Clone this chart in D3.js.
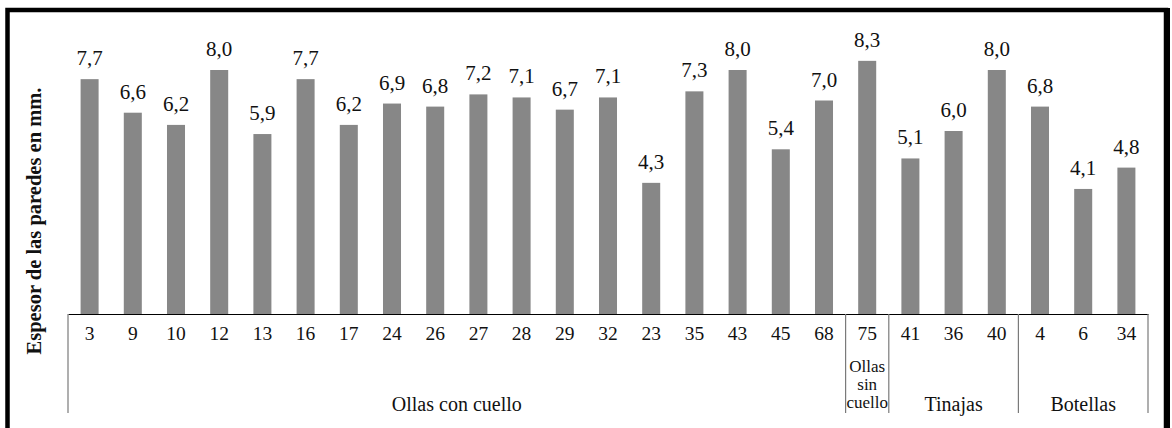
<!DOCTYPE html>
<html>
<head>
<meta charset="utf-8">
<script src="https://cdn.jsdelivr.net/npm/d3@7"></script>
<style>
  html, body { margin: 0; padding: 0; background: #ffffff; }
  svg { display: block; }
  svg text { font-family: "Liberation Serif", "Times New Roman", "DejaVu Serif", serif; }
</style>
</head>
<body>
<svg id="chart" width="1172" height="428"></svg>
<script>
// ---- data ----
const categories = ["3","9","10","12","13","16","17","24","26","27","28","29","32","23","35","43","45","68","75","41","36","40","4","6","34"];
const values = [7.7,6.6,6.2,8.0,5.9,7.7,6.2,6.9,6.8,7.2,7.1,6.7,7.1,4.3,7.3,8.0,5.4,7.0,8.3,5.1,6.0,8.0,6.8,4.1,4.8];
const groupNames = [["Ollas con cuello"], ["Ollas","sin","cuello"], ["Tinajas"], ["Botellas"]];
const groupSizes = [18, 1, 3, 3];
const yAxisTitle = "Espesor de las paredes en mm.";

// ---- layout ----
const W = 1172, H = 428;
const plotLeft = 68, plotRight = 1148, axisY = 314;
const svg = d3.select("#chart");
const serif = '"Liberation Serif", "Times New Roman", "DejaVu Serif", serif';

svg.append("rect").attr("x",0).attr("y",0).attr("width",W).attr("height",H).attr("fill","#fff");

const x = d3.scaleBand()
  .domain(categories)
  .range([plotLeft, plotRight])
  .paddingInner(0.583)
  .paddingOuter(0.2915);

const y = d3.scaleLinear().domain([0, 9]).range([axisY, axisY - 9 * 30.5]);

// bars
svg.append("g").selectAll("rect")
  .data(categories.map((c, i) => ({c, v: values[i]})))
  .join("rect")
  .attr("x", d => x(d.c))
  .attr("width", x.bandwidth())
  .attr("y", d => y(d.v))
  .attr("height", d => y(0) - y(d.v))
  .attr("fill", "#878787");

// value labels
svg.append("g").selectAll("text")
  .data(categories.map((c, i) => ({c, v: values[i]})))
  .join("text")
  .attr("x", d => x(d.c) + x.bandwidth() / 2)
  .attr("y", d => y(d.v) - 14)
  .attr("text-anchor", "middle")
  .style("font-family", serif)
  .style("font-size", "21px")
  .attr("fill", "#111")
  .text(d => d3.format(".1f")(d.v).replace(".", ","));

// x axis (categories)
const axis = svg.append("g")
  .attr("transform", `translate(0,${axisY})`)
  .call(d3.axisBottom(x).tickSize(0).tickSizeOuter(0));
axis.attr("font-family", null).attr("font-size", null);
axis.select(".domain").attr("stroke", "#000").attr("stroke-width", 1.2);
axis.selectAll(".tick text")
  .attr("y", 26)
  .attr("dy", null)
  .style("font-family", serif)
  .style("font-size", "19.5px")
  .attr("fill", "#111");

// group separators and labels
const gap = (x.step() - x.bandwidth()) / 2;
let start = 0;
const bounds = [];
groupSizes.forEach((n, gi) => {
  const first = categories[start], last = categories[start + n - 1];
  const x0 = x(first) - gap, x1 = x(last) + x.bandwidth() + gap;
  bounds.push(x0);
  if (gi === groupSizes.length - 1) bounds.push(x1);
  const lines = groupNames[gi];
  const cx = (x0 + x1) / 2;
  const t = svg.append("text")
    .attr("text-anchor", "middle")
    .style("font-family", serif)
    .attr("fill", "#111");
  if (lines.length === 1) {
    t.style("font-size", "20px").attr("x", cx).attr("y", 411).text(lines[0]);
  } else {
    t.style("font-size", "17px");
    lines.forEach((l, li) => {
      t.append("tspan").attr("x", cx).attr("y", 372 + li * 18).text(l);
    });
  }
  start += n;
});
svg.append("g").selectAll("line")
  .data(bounds)
  .join("line")
  .attr("x1", d => d).attr("x2", d => d)
  .attr("y1", axisY).attr("y2", 413)
  .attr("stroke", "#7a7a7a")
  .attr("stroke-width", 1.2);

// y axis title
svg.append("text")
  .attr("transform", `translate(41, ${(85 + 357) / 2}) rotate(-90)`)
  .attr("text-anchor", "middle")
  .style("font-family", serif)
  .style("font-weight", "bold")
  .style("font-size", "20.5px")
  .attr("fill", "#111")
  .text(yAxisTitle);

// outer frame (bottom edge falls outside the picture)
svg.append("path")
  .attr("d", `M7.5,${H + 10} V10 H1166 V${H + 10}`)
  .attr("fill", "none")
  .attr("stroke", "#000")
  .attr("stroke-width", 4.5);
svg.append("line")
  .attr("x1", 1167).attr("x2", 1167).attr("y1", 8).attr("y2", H)
  .attr("stroke", "#000").attr("stroke-width", 6);
</script>
</body>
</html>
